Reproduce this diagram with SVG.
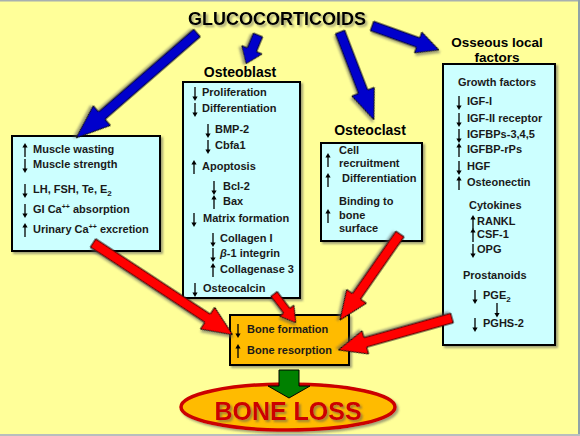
<svg xmlns="http://www.w3.org/2000/svg" xmlns:xlink="http://www.w3.org/1999/xlink" width="580" height="436" viewBox="0 0 580 436">
<defs>
<style>
text{font-family:"Liberation Sans",Arial,sans-serif;font-weight:bold;fill:#1a1a1a}
.t{font-size:11px}
.lab{font-size:14px;text-anchor:middle;fill:#000}
.box{fill:#CCFFFF;stroke:#000;stroke-width:2}
.blue{fill:#0000CC;stroke:#000;stroke-width:1}
.red{fill:#FF0000;stroke:#000;stroke-width:1}
.sa{stroke:#000;stroke-width:1.3;fill:none}
</style>
<filter id="sh" x="-20%" y="-20%" width="140%" height="140%">
<feDropShadow dx="2" dy="2" stdDeviation="1" flood-color="#555" flood-opacity="0.55"/>
</filter>
<g id="up"><path class="sa" d="M0,4V-7"/><path d="M-2.6,-5.5L0,-10L2.6,-5.5Z" fill="#000"/></g>
<g id="dn"><path class="sa" d="M0,-9V2"/><path d="M-2.6,0.5L0,5L2.6,0.5Z" fill="#000"/></g>
</defs>
<rect x="0" y="0" width="580" height="436" fill="#FFFF99"/>
<rect x="0" y="0" width="580" height="1.5" fill="#A8B0B0"/>
<rect x="578" y="0" width="2" height="436" fill="#8FA3A8"/>
<rect x="0" y="434" width="580" height="2" fill="#B8BEBE"/>

<g id="title"><text x="277" y="25" style="font-size:18px;text-anchor:middle;fill:#000" filter="url(#sh)">GLUCOCORTICOIDS</text></g>

<g id="systemic">
<rect class="box" x="12" y="136" width="148" height="115" filter="url(#sh)"/>
<use href="#up" x="25" y="153"/><text class="t" x="33" y="153">Muscle wasting</text>
<use href="#dn" x="25" y="168"/><text class="t" x="33" y="168">Muscle strength</text>
<use href="#dn" x="25" y="193"/><text class="t" x="33" y="193">LH, FSH, Te, E<tspan font-size="8" dy="3">2</tspan></text>
<use href="#dn" x="25" y="213"/><text class="t" x="33" y="213">GI Ca<tspan font-size="7" dy="-4">++</tspan><tspan dy="4"> absorption</tspan></text>
<use href="#up" x="25" y="233"/><text class="t" x="33" y="233">Urinary Ca<tspan font-size="7" dy="-4">++</tspan><tspan dy="4"> excretion</tspan></text>
</g>

<g id="osteoblast">
<text class="lab" x="240" y="77">Osteoblast</text>
<rect class="box" x="183" y="82" width="117" height="216" filter="url(#sh)"/>
<use href="#dn" x="195" y="96"/><text class="t" x="202" y="96">Proliferation</text>
<use href="#dn" x="195" y="112"/><text class="t" x="202" y="112">Differentiation</text>
<use href="#dn" x="208" y="133"/><text class="t" x="215" y="133">BMP-2</text>
<use href="#dn" x="208" y="149"/><text class="t" x="215" y="149">Cbfa1</text>
<use href="#up" x="194" y="170"/><text class="t" x="202" y="170">Apoptosis</text>
<use href="#dn" x="214" y="190"/><text class="t" x="223" y="190">Bcl-2</text>
<use href="#up" x="214" y="205"/><text class="t" x="223" y="205">Bax</text>
<use href="#dn" x="194" y="222"/><text class="t" x="203" y="222">Matrix formation</text>
<use href="#dn" x="213" y="242"/><text class="t" x="220" y="242">Collagen I</text>
<use href="#dn" x="213" y="257"/><text class="t" x="220" y="257"><tspan font-style="italic">β</tspan>-1 integrin</text>
<use href="#up" x="213" y="273"/><text class="t" x="220" y="273">Collagenase 3</text>
<use href="#dn" x="195" y="292"/><text class="t" x="203" y="292">Osteocalcin</text>
</g>

<g id="osteoclast">
<text class="lab" x="370" y="135">Osteoclast</text>
<rect class="box" x="321" y="143" width="101" height="98" filter="url(#sh)"/>
<use href="#up" x="328" y="163"/>
<text class="t" x="339" y="154">Cell</text>
<text class="t" x="339" y="167">recruitment</text>
<use href="#up" x="328" y="183"/><text class="t" x="342" y="182">Differentiation</text>
<use href="#up" x="328" y="219"/>
<text class="t" x="339" y="205">Binding to</text>
<text class="t" x="339" y="219">bone</text>
<text class="t" x="339" y="232">surface</text>
</g>

<g id="osseous">
<text class="lab" x="497" y="47" style="font-size:13.5px">Osseous local</text>
<text class="lab" x="497" y="62" style="font-size:13.5px">factors</text>
<rect class="box" x="443" y="64" width="112" height="281" filter="url(#sh)"/>
<text class="t" x="458" y="86">Growth factors</text>
<use href="#dn" x="459" y="105"/><text class="t" x="467" y="105">IGF-I</text>
<use href="#dn" x="459" y="122"/><text class="t" x="467" y="122">IGF-II receptor</text>
<use href="#dn" x="459" y="138"/><text class="t" x="467" y="138">IGFBPs-3,4,5</text>
<use href="#up" x="459" y="153"/><text class="t" x="467" y="153">IGFBP-rPs</text>
<use href="#dn" x="459" y="170"/><text class="t" x="467" y="170">HGF</text>
<use href="#up" x="459" y="186"/><text class="t" x="467" y="186">Osteonectin</text>
<text class="t" x="469" y="209">Cytokines</text>
<use href="#up" x="473" y="225"/><text class="t" x="477" y="225">RANKL</text>
<use href="#up" x="473" y="238"/><text class="t" x="477" y="238">CSF-1</text>
<use href="#dn" x="473" y="253"/><text class="t" x="477" y="253">OPG</text>
<text class="t" x="463" y="279">Prostanoids</text>
<use href="#dn" x="475" y="299"/><text class="t" x="483" y="299">PGE<tspan font-size="8" dy="3">2</tspan></text>
<path class="sa" d="M497,303V315"/><path d="M494.4,313L497,317.5L499.6,313Z" fill="#000"/>
<use href="#dn" x="475" y="327"/><text class="t" x="483" y="327">PGHS-2</text>
</g>

<g id="bone">
<rect x="230" y="315" width="119" height="50" fill="#FFBB00" stroke="#000" stroke-width="2" filter="url(#sh)"/>
<use href="#dn" x="238" y="333"/><text class="t" x="247" y="333">Bone formation</text>
<use href="#up" x="238" y="354"/><text class="t" x="247" y="354">Bone resorption</text>
</g>

<g id="boneloss">
<ellipse cx="288" cy="407" rx="107" ry="23" fill="#FFBB00" stroke="#CC0000" stroke-width="3.5" filter="url(#sh)"/>
<text x="288" y="420" style="font-size:25px;text-anchor:middle;fill:#CC0000" filter="url(#sh)">BONE LOSS</text>
</g>

<g id="connectors">
<polygon class="blue" filter="url(#sh)" transform="translate(197,33) rotate(139.05)" points="0,-5 126,-5 126,-13 160,0 126,13 126,5 0,5"/>
<polygon class="blue" filter="url(#sh)" transform="translate(258,35) rotate(112.5)" points="0,-5 16,-5 16,-11 31,0 16,11 16,5 0,5"/>
<polygon class="blue" filter="url(#sh)" transform="translate(340,32) rotate(68.9)" points="0,-5 64,-5 64,-12 94,0 64,12 64,5 0,5"/>
<polygon class="blue" filter="url(#sh)" transform="translate(372,26) rotate(19.7)" points="0,-5 49,-5 49,-11 71,0 49,11 49,5 0,5"/>
<polygon class="red" filter="url(#sh)" transform="translate(93,243) rotate(33.3)" points="0,-5 137,-5 137,-13 167,0 137,13 137,5 0,5"/>
<polygon class="red" filter="url(#sh)" transform="translate(274,294) rotate(52.8)" points="0,-4 21,-4 21,-9 36,0 21,9 21,4 0,4"/>
<polygon class="red" filter="url(#sh)" transform="translate(400,234) rotate(124.9)" points="0,-5 76,-5 76,-12 105,0 76,12 76,5 0,5"/>
<polygon class="red" filter="url(#sh)" transform="translate(452,318) rotate(164.3)" points="0,-5 90,-5 90,-12 118,0 90,12 90,5 0,5"/>
<polygon fill="#008000" stroke="#000" stroke-width="1" points="279,370 299,370 299,386 310,386 289,398 268,386 279,386"/>
</g>
</svg>
